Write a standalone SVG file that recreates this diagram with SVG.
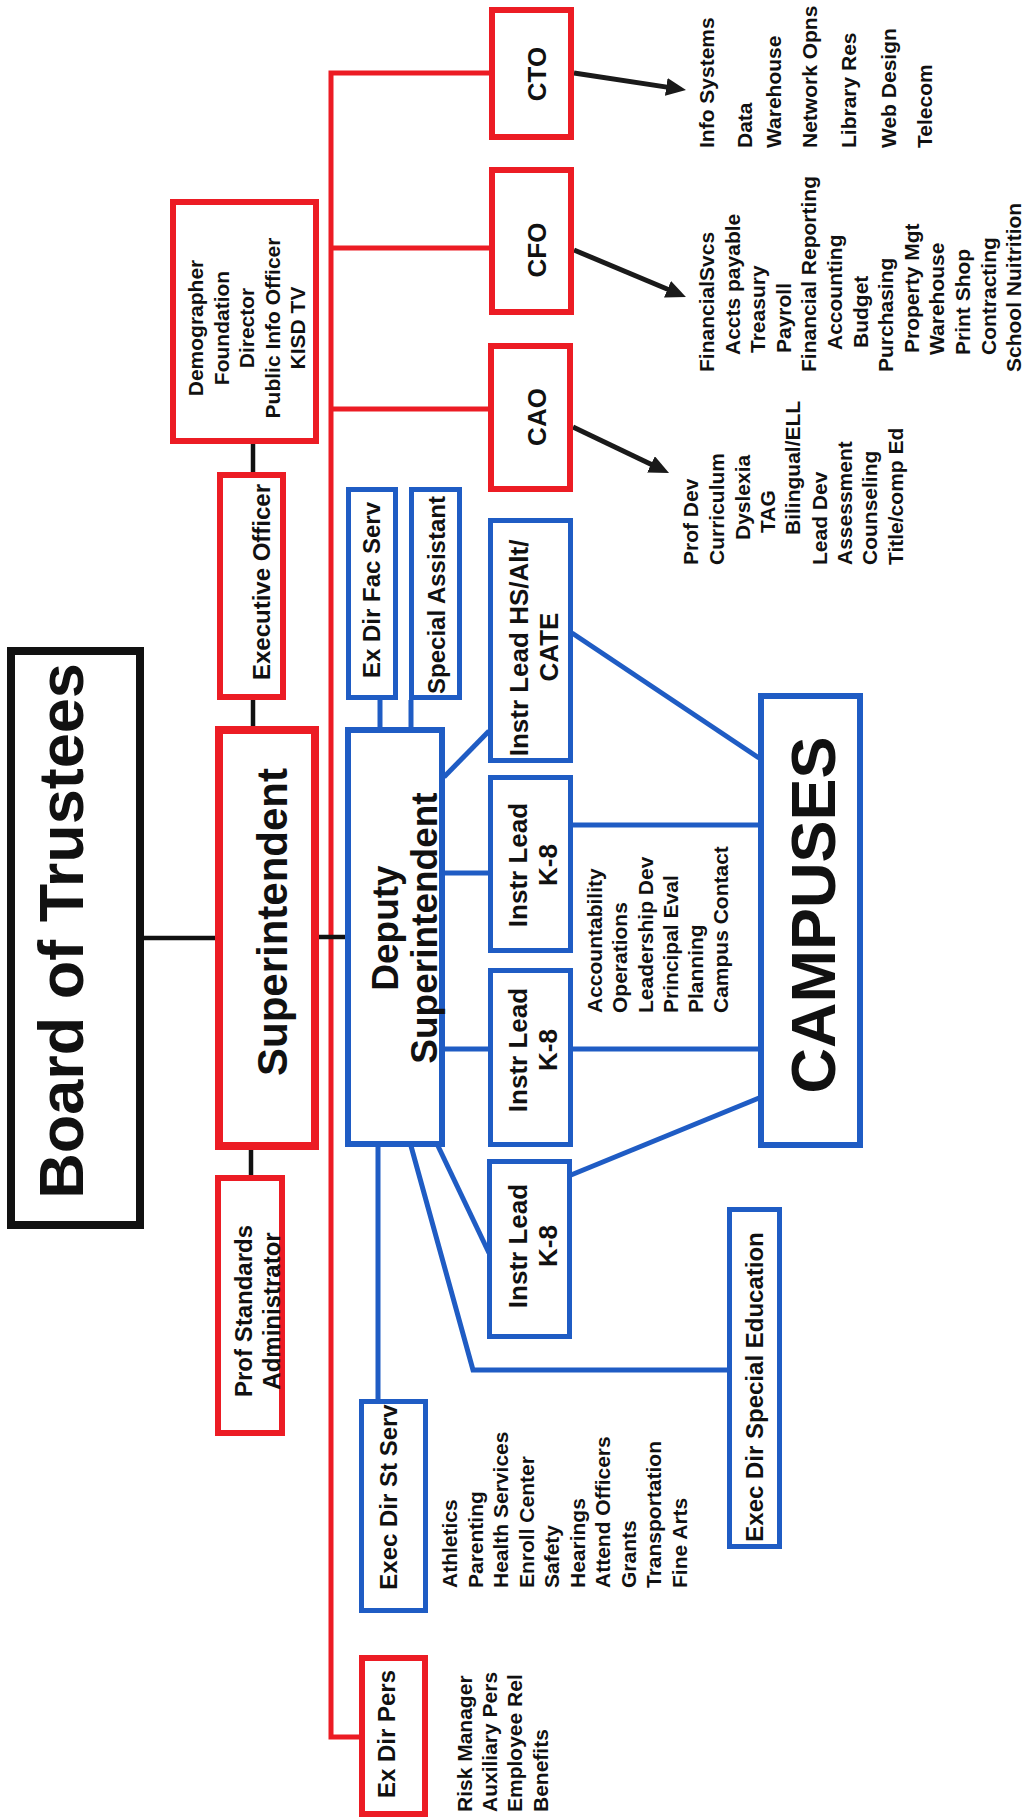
<svg xmlns="http://www.w3.org/2000/svg" width="1024" height="1820" viewBox="0 0 1024 1820">
<defs>
<style>
.r{fill:#fff;stroke:#ec1c24;stroke-width:6}
.b{fill:#fff;stroke:#1f5cc4;stroke-width:5}
.k{fill:#fff;stroke:#111;stroke-width:8}
.lr{fill:none;stroke:#ec1c24;stroke-width:5}
.lb{fill:none;stroke:#1f5cc4;stroke-width:5}
.lk{fill:none;stroke:#111;stroke-width:4.5}
.la{fill:none;stroke:#1a1a1a;stroke-width:5;marker-end:url(#ah)}
text{font-family:"Liberation Sans",Arial,sans-serif;font-weight:bold;fill:#111}
.m{text-anchor:middle}
.s{text-anchor:start;font-size:21px}
</style>
<marker id="ah" viewBox="0 0 20 18" markerWidth="20" markerHeight="18" refX="4" refY="9" orient="auto" markerUnits="userSpaceOnUse">
<path d="M0,0 L20,9 L0,18 z" fill="#1a1a1a"/>
</marker>
</defs>
<rect width="1024" height="1820" fill="#fff"/>

<g id="connectors">
<polyline class="lr" points="490,73 331,73 331,1737 361,1737"/>
<line class="lr" x1="331" y1="248" x2="490" y2="248"/>
<line class="lr" x1="331" y1="409" x2="489" y2="409"/>
<line class="lk" x1="253" y1="444" x2="253" y2="473"/>
<line class="lk" x1="253" y1="700" x2="253" y2="727"/>
<line class="lk" x1="251" y1="1150" x2="251" y2="1176"/>
<line class="lk" x1="144" y1="938" x2="216" y2="938"/>
<line class="lk" x1="319" y1="937" x2="346" y2="937"/>
<line class="la" x1="574" y1="73" x2="670.2" y2="87.6"/>
<line class="la" x1="574" y1="250" x2="671.2" y2="290.8"/>
<line class="la" x1="573" y1="427" x2="654.6" y2="466.1"/>
<line class="lb" x1="380" y1="700" x2="380" y2="728"/>
<line class="lb" x1="411" y1="700" x2="411" y2="728"/>
<line class="lb" x1="444" y1="777" x2="489" y2="731"/>
<line class="lb" x1="445" y1="873" x2="489" y2="873"/>
<line class="lb" x1="445" y1="1049" x2="489" y2="1049"/>
<line class="lb" x1="572" y1="1049" x2="759" y2="1049"/>
<line class="lb" x1="572" y1="825" x2="759" y2="825"/>
<line class="lb" x1="572" y1="633" x2="759" y2="758"/>
<line class="lb" x1="571" y1="1175" x2="759" y2="1098"/>
<line class="lb" x1="438" y1="1146" x2="489" y2="1253"/>
<polyline class="lb" points="411,1146 473,1370 728,1370"/>
<line class="lb" x1="378" y1="1146" x2="378" y2="1400"/>
</g>

<g id="board"><rect class="k" x="11" y="651" width="129" height="574"/>
<text class="m" font-size="63" transform="rotate(-90)" x="-931" y="83">Board of Trustees</text></g>

<g id="superintendent"><rect class="r" style="stroke-width:8" x="219" y="730" width="96" height="416"/>
<text class="m" font-size="42" transform="rotate(-90)" x="-922" y="287">Superintendent</text></g>

<g id="demographer"><rect class="r" x="173" y="202" width="143" height="239"/>
<text class="m" font-size="21" transform="rotate(-90)"><tspan x="-328" y="203">Demographer</tspan><tspan x="-328" y="228.5">Foundation</tspan><tspan x="-328" y="254">Director</tspan><tspan x="-328" y="279.5">Public Info Officer</tspan><tspan x="-328" y="305">KISD TV</tspan></text></g>

<g id="exec-officer"><rect class="r" x="220" y="475" width="63" height="222"/>
<text class="m" font-size="24" transform="rotate(-90)" x="-582" y="270">Executive Officer</text></g>

<g id="prof-standards"><rect class="r" x="218" y="1178" width="64" height="255"/>
<text class="m" font-size="24" transform="rotate(-90)"><tspan x="-1311" y="252">Prof Standards</tspan><tspan x="-1311" y="280">Administrator</tspan></text></g>

<g id="cto"><rect class="r" x="492" y="10" width="79" height="127"/>
<text class="m" font-size="26" transform="rotate(-90)" x="-74" y="546">CTO</text></g>
<g id="cfo"><rect class="r" x="492" y="170" width="79" height="142"/>
<text class="m" font-size="26" transform="rotate(-90)" x="-250" y="546">CFO</text></g>
<g id="cao"><rect class="r" x="491" y="346" width="79" height="143"/>
<text class="m" font-size="26" transform="rotate(-90)" x="-417" y="546">CAO</text></g>

<g id="cto-list"><text class="s" transform="rotate(-90)">
<tspan x="-148" y="714">Info Systems</tspan><tspan x="-148" y="752">Data</tspan><tspan x="-148" y="781">Warehouse</tspan><tspan x="-148" y="817">Network Opns</tspan><tspan x="-148" y="856">Library Res</tspan><tspan x="-148" y="896">Web Design</tspan><tspan x="-148" y="932">Telecom</tspan></text></g>

<g id="cfo-list"><text class="s" transform="rotate(-90)">
<tspan x="-372" y="714">FinancialSvcs</tspan><tspan x="-355" y="739.6">Accts payable</tspan><tspan x="-353" y="765.2">Treasury</tspan><tspan x="-353" y="790.8">Payroll</tspan><tspan x="-372" y="816.4">Financial Reporting</tspan><tspan x="-350" y="842">Accounting</tspan><tspan x="-348" y="867.6">Budget</tspan><tspan x="-372" y="893.2">Purchasing</tspan><tspan x="-353" y="918.8">Property Mgt</tspan><tspan x="-355" y="944.4">Warehouse</tspan><tspan x="-355" y="970">Print Shop</tspan><tspan x="-355" y="995.6">Contracting</tspan><tspan x="-372" y="1021">School Nuitrition</tspan></text></g>

<g id="cao-list"><text class="s" transform="rotate(-90)">
<tspan x="-565" y="698">Prof Dev</tspan><tspan x="-565" y="724">Curriculum</tspan><tspan x="-540" y="750">Dyslexia</tspan><tspan x="-533" y="775">TAG</tspan><tspan x="-535" y="800">Bilingual/ELL</tspan><tspan x="-565" y="827">Lead Dev</tspan><tspan x="-565" y="852">Assessment</tspan><tspan x="-565" y="877">Counseling</tspan><tspan x="-565" y="903">Title/comp Ed</tspan></text></g>

<g id="ex-dir-pers"><rect class="r" x="362" y="1658" width="63" height="156"/>
<text class="m" font-size="24" transform="rotate(-90)" x="-1734" y="395">Ex Dir Pers</text></g>
<g id="pers-list"><text class="s" transform="rotate(-90)">
<tspan x="-1812" y="472">Risk Manager</tspan><tspan x="-1812" y="497">Auxiliary Pers</tspan><tspan x="-1812" y="522">Employee Rel</tspan><tspan x="-1812" y="548">Benefits</tspan></text></g>

<g id="deputy"><rect class="b" style="stroke-width:6" x="348" y="730" width="94" height="414"/>
<text class="m" font-size="37" transform="rotate(-90)"><tspan x="-928" y="398">Deputy</tspan><tspan x="-928" y="437">Superintendent</tspan></text></g>

<g id="ex-dir-fac"><rect class="b" x="348.5" y="489.5" width="47" height="208"/>
<text class="m" font-size="24" transform="rotate(-90)" x="-590" y="380">Ex Dir Fac Serv</text></g>
<g id="special-assistant"><rect class="b" x="411.5" y="489.5" width="48" height="208"/>
<text class="m" font-size="24" transform="rotate(-90)" x="-595" y="445">Special Assistant</text></g>

<g id="instr-hs"><rect class="b" x="490.5" y="520.5" width="80" height="240"/>
<text class="m" font-size="26" transform="rotate(-90)"><tspan x="-648" y="528">Instr Lead HS/Alt/</tspan><tspan x="-647" y="558">CATE</tspan></text></g>
<g id="instr-k8-1"><rect class="b" x="490.5" y="777.5" width="80" height="173"/>
<text class="m" font-size="26" transform="rotate(-90)"><tspan x="-865" y="527">Instr Lead</tspan><tspan x="-865" y="557">K-8</tspan></text></g>
<g id="instr-k8-2"><rect class="b" x="490.5" y="970.5" width="80" height="174"/>
<text class="m" font-size="26" transform="rotate(-90)"><tspan x="-1050" y="527">Instr Lead</tspan><tspan x="-1050" y="557">K-8</tspan></text></g>
<g id="instr-k8-3"><rect class="b" x="489.5" y="1161.5" width="80" height="175"/>
<text class="m" font-size="26" transform="rotate(-90)"><tspan x="-1246" y="527">Instr Lead</tspan><tspan x="-1246" y="557">K-8</tspan></text></g>

<g id="campus-list"><text class="s" transform="rotate(-90)">
<tspan x="-1013" y="602">Accountability</tspan><tspan x="-1013" y="627">Operations</tspan><tspan x="-1013" y="653">Leadership Dev</tspan><tspan x="-1013" y="678">Principal Eval</tspan><tspan x="-1013" y="703">Planning</tspan><tspan x="-1013" y="728">Campus Contact</tspan></text></g>

<g id="campuses"><rect class="b" style="stroke-width:6" x="761" y="696" width="99" height="449"/>
<text class="m" font-size="63" transform="rotate(-90)" x="-915" y="835">CAMPUSES</text></g>

<g id="exec-dir-st-serv"><rect class="b" x="361.5" y="1401.5" width="64" height="209"/>
<text class="m" font-size="24" transform="rotate(-90)" x="-1497" y="397">Exec Dir St Serv</text></g>
<g id="st-serv-list"><text class="s" transform="rotate(-90)">
<tspan x="-1588" y="457">Athletics</tspan><tspan x="-1588" y="482.5">Parenting</tspan><tspan x="-1588" y="508">Health Services</tspan><tspan x="-1588" y="533.5">Enroll Center</tspan><tspan x="-1588" y="559">Safety</tspan><tspan x="-1588" y="584.5">Hearings</tspan><tspan x="-1588" y="610">Attend Officers</tspan><tspan x="-1588" y="635.5">Grants</tspan><tspan x="-1588" y="661">Transportation</tspan><tspan x="-1588" y="686.5">Fine Arts</tspan></text></g>

<g id="exec-dir-sped"><rect class="b" x="729.5" y="1209.5" width="50" height="337"/>
<text class="m" font-size="24" transform="rotate(-90)" x="-1387" y="763">Exec Dir Special Education</text></g>
</svg>
